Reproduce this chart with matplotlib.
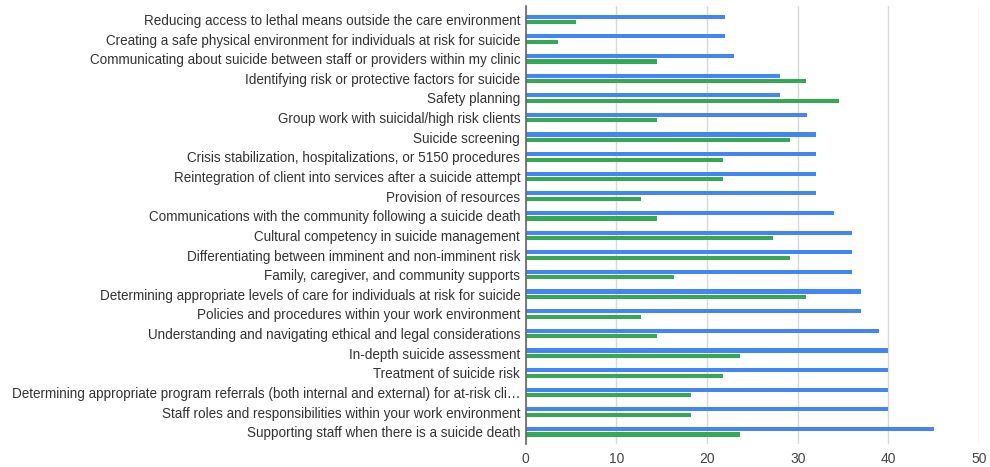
import matplotlib.pyplot as plt
import numpy as np

plt.rcParams['font.family'] = ['Liberation Sans', 'DejaVu Sans']

# Training topics, top to bottom
topics = [
    "Reducing access to lethal means outside the care environment",
    "Creating a safe physical environment for individuals at risk for suicide",
    "Communicating about suicide between staff or providers within my clinic",
    "Identifying risk or protective factors for suicide",
    "Safety planning",
    "Group work with suicidal/high risk clients",
    "Suicide screening",
    "Crisis stabilization, hospitalizations, or 5150 procedures",
    "Reintegration of client into services after a suicide attempt",
    "Provision of resources",
    "Communications with the community following a suicide death",
    "Cultural competency in suicide management",
    "Differentiating between imminent and non-imminent risk",
    "Family, caregiver, and community supports",
    "Determining appropriate levels of care for individuals at risk for suicide",
    "Policies and procedures within your work environment",
    "Understanding and navigating ethical and legal considerations",
    "In-depth suicide assessment",
    "Treatment of suicide risk",
    "Determining appropriate program referrals (both internal and external) for at-risk cli\u2026",
    "Staff roles and responsibilities within your work environment",
    "Supporting staff when there is a suicide death",
]

blue_vals = [22, 22, 23, 28, 28, 31, 32, 32, 32, 32, 34,
             36, 36, 36, 37, 37, 39, 40, 40, 40, 40, 45]
green_vals = [5.5, 3.6, 14.5, 30.9, 34.5, 14.5, 29.1, 21.8, 21.8, 12.7, 14.5,
              27.3, 29.1, 16.4, 30.9, 12.7, 14.5, 23.6, 21.8, 18.2, 18.2, 23.6]

y = np.arange(len(topics))

fig = plt.figure(figsize=(9.9, 4.67), dpi=100)
ax = fig.add_axes([0.531, 0.049, 0.458, 0.938])

ax.barh(y - 0.14, blue_vals, height=0.21, color='#4285F4')
ax.barh(y + 0.14, green_vals, height=0.21, color='#34A853')

ax.set_xlim(0, 50)
ax.set_ylim(len(topics) - 0.37, -0.68)
ax.set_xticks(range(0, 51, 10))
ax.set_yticks(y)
ax.set_yticklabels(topics, fontsize=9.75, color='#333333')
ax.tick_params(axis='x', length=0, labelsize=10, labelcolor='#444444', pad=6)
ax.tick_params(axis='y', length=0, pad=4)

ax.grid(axis='x', color='#d9d9d9', linewidth=1)
ax.set_axisbelow(True)
for side in ['top', 'right', 'bottom']:
    ax.spines[side].set_visible(False)
ax.spines['left'].set_color('#666666')
ax.spines['left'].set_linewidth(1.2)

fig.savefig('out.png', dpi=100)
